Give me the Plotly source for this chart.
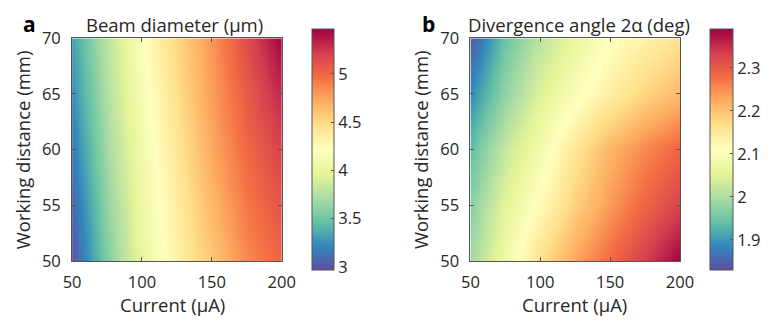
import plotly.graph_objects as go

# Grid of operating points
current_uA = [50, 75, 100, 125, 150, 175, 200]
working_distance_mm = [50, 55, 60, 65, 70]

# Beam diameter (µm), rows follow working_distance_mm
beam_diameter = [
    [3.00, 3.57, 4.02, 4.33, 4.60, 4.86, 5.02],
    [3.08, 3.63, 4.06, 4.37, 4.67, 4.93, 5.11],
    [3.16, 3.70, 4.10, 4.42, 4.74, 5.00, 5.20],
    [3.25, 3.75, 4.15, 4.47, 4.78, 5.07, 5.32],
    [3.33, 3.79, 4.20, 4.52, 4.81, 5.15, 5.45],
]

# Divergence angle 2α (deg), rows follow working_distance_mm
divergence = [
    [1.99, 2.08, 2.165, 2.23, 2.285, 2.335, 2.39],
    [1.97, 2.055, 2.12, 2.185, 2.24, 2.29, 2.33],
    [1.94, 2.025, 2.085, 2.155, 2.215, 2.255, 2.29],
    [1.89, 1.98, 2.05, 2.10, 2.14, 2.18, 2.21],
    [1.84, 1.95, 2.015, 2.065, 2.11, 2.135, 2.16],
]

x_ticks = [50, 100, 150, 200]
y_ticks = [50, 55, 60, 65, 70]
cbar_a_ticks = [3, 3.5, 4, 4.5, 5]
cbar_b_ticks = [1.9, 2.0, 2.1, 2.2, 2.3]

W, H = 776, 329
TXT = "#262626"
LINE = "#555555"
FONT = "Open Sans"
TICK_SIZE = 16.5
TITLE_SIZE = 18.5

fig = go.Figure()

def px_x(p):
    return p / W

def px_y(p):
    return 1 - p / H

plot_top, plot_bot = 28.3, 267.7
panels = [
    dict(z=beam_diameter, cb_x=312, cb_w=22, zmin=2.97, zmax=5.47,
         ticks=cbar_a_ticks, xa="x", ya="y"),
    dict(z=divergence, cb_x=722, cb_w=23, zmin=1.831, zmax=2.391,
         ticks=cbar_b_ticks, xa="x2", ya="y2"),
]

for p in panels:
    fig.add_trace(go.Heatmap(
        x=current_uA, y=working_distance_mm, z=p["z"],
        zsmooth="best", colorscale="Spectral_r",
        zmin=p["zmin"], zmax=p["zmax"],
        xaxis=p["xa"], yaxis=p["ya"],
        colorbar=dict(
            x=px_x(p["cb_x"]), xanchor="left", xpad=0, ypad=0,
            y=px_y((27 + 268) / 2), yanchor="middle",
            len=241, lenmode="pixels",
            thickness=p["cb_w"], thicknessmode="pixels",
            outlinecolor=LINE, outlinewidth=1,
            tickvals=p["ticks"], ticktext=[f"{t:g}" for t in p["ticks"]],
            ticks="inside", ticklen=3, tickcolor=LINE,
            tickfont=dict(family=FONT, size=TICK_SIZE, color=TXT),
        ),
        showscale=True,
    ))

axis_common = dict(
    showline=True, linecolor=LINE, linewidth=1, mirror="ticks",
    ticks="inside", ticklen=4, tickcolor=LINE,
    showgrid=False, zeroline=False,
    tickfont=dict(family=FONT, size=TICK_SIZE, color=TXT),
)

x_axis = dict(range=[50, 200], tickvals=x_ticks, ticklabelstandoff=6, **axis_common)
y_axis = dict(domain=[px_y(plot_bot), px_y(plot_top)], range=[50, 70], tickvals=y_ticks,
              ticklabelstandoff=7, **axis_common)

fig.update_layout(
    width=W, height=H,
    margin=dict(l=0, r=0, t=0, b=0),
    paper_bgcolor="white", plot_bgcolor="white",
    showlegend=False,
    xaxis=dict(domain=[px_x(65), px_x(281)], anchor="y", **x_axis),
    yaxis=dict(anchor="x", **y_axis),
    xaxis2=dict(domain=[px_x(475.5), px_x(691.5)], anchor="y2", **x_axis),
    yaxis2=dict(anchor="x2", **y_axis),
)

def label(text, x, y, size=TITLE_SIZE, bold=False, angle=0):
    fig.add_annotation(
        text=f"<b>{text}</b>" if bold else text,
        x=px_x(x), y=px_y(y), xref="paper", yref="paper",
        showarrow=False, xanchor="center", yanchor="middle", textangle=angle,
        font=dict(family=FONT, size=size, color="black" if bold else TXT),
    )

# Panel a
label("a", 21, 13, size=21, bold=True)
label("Beam diameter (µm)", 171, 13)
label("Current (µA)", 168, 314)
label("Working distance (mm)", 14, 148, angle=-90)

# Panel b
label("b", 432, 13, size=21, bold=True)
label("Divergence angle 2α (deg)", 587, 13)
label("Current (µA)", 583, 314)
label("Working distance (mm)", 424, 148, angle=-90)

fig.write_html("out.html")
